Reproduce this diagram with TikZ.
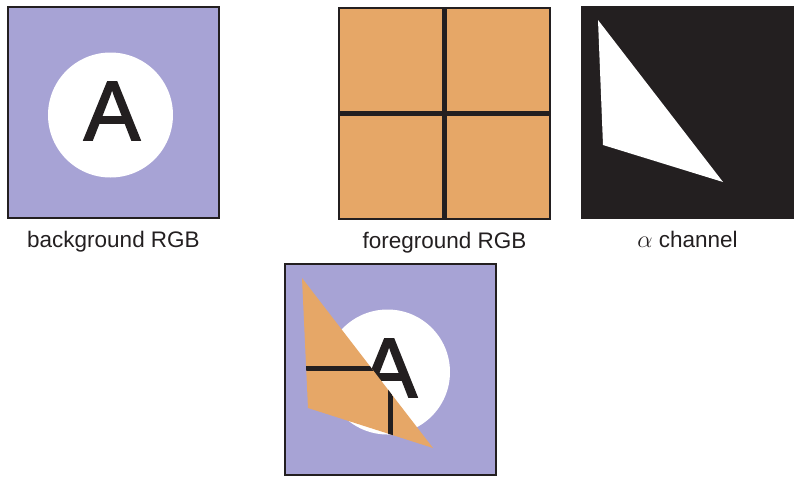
\documentclass[tikz,border=0pt]{standalone}
\usepackage{fontspec}
\setmainfont{Liberation Sans}
\newfontfamily\glyphfont[FakeBold=2]{Liberation Sans}
\definecolor{lavender}{RGB}{167,163,213}
\definecolor{peach}{RGB}{230,167,103}
\definecolor{ink}{RGB}{35,31,32}
\usetikzlibrary{positioning}

\begin{document}
\begin{tikzpicture}[x=0.25mm, y=-0.25mm,
    panel/.style={draw=ink, line width=1.3pt, minimum size=52.75mm,
      inner sep=0pt, outer sep=0pt},
    caption/.style={font=\fontsize{16}{18}\selectfont, text=ink, inner sep=0pt},
    glyph/.style={font=\glyphfont\fontsize{60}{60}\selectfont, text=ink, inner sep=0pt},
    grid/.style={ink, line width=3.6pt},
  ]
    \useasboundingbox (0,0) rectangle (806,483);

    % the three inputs and the result
    \node[panel, fill=lavender] (bg) at (113.5,112.5) {};
    \node[panel, fill=peach] (fg) at (444.5,113.5) {};
    \node[panel, fill=ink] (alpha) at (687.5,112.5) {};
    \node[panel, fill=lavender] (comp) at (390.5,369.5) {};

    \begin{scope}[shift={(bg.north west)}]
      \fill[white] (102.5,108) circle [radius=62.5];
      \node[glyph] (bgA) at (104,104) {A};
    \end{scope}

    \draw[grid] (fg.north) -- (fg.south);
    \draw[grid] (fg.west) -- (fg.east);

    \begin{scope}[shift={(alpha.north west)}]
      \fill[white] (16,13) -- (21,138) -- (141,175) -- cycle;
    \end{scope}

    % over: fg where alpha is 1, bg elsewhere
    \begin{scope}[shift={(comp.north west)}]
      \fill[white] (102.5,108) circle [radius=62.5];
      \node[glyph] (compA) at (104,104) {A};
      \fill[peach] (17,14) -- (23,144) -- (148,184) -- cycle;
      \clip (17,14) -- (23,144) -- (148,184) -- cycle;
      \draw[grid] (105.5,0) -- (105.5,211);
      \draw[grid] (0,104.5) -- (211,104.5);
    \end{scope}
    \node[panel] (compframe) at (comp) {};

    \node[caption, below=3.2mm of bg] (bgcap) {background RGB};
    \node[caption, below=3.2mm of fg] (fgcap) {foreground RGB};
    \node[caption, below=3.2mm of alpha] (alphacap) {$\alpha$ channel};
\end{tikzpicture}
\end{document}
